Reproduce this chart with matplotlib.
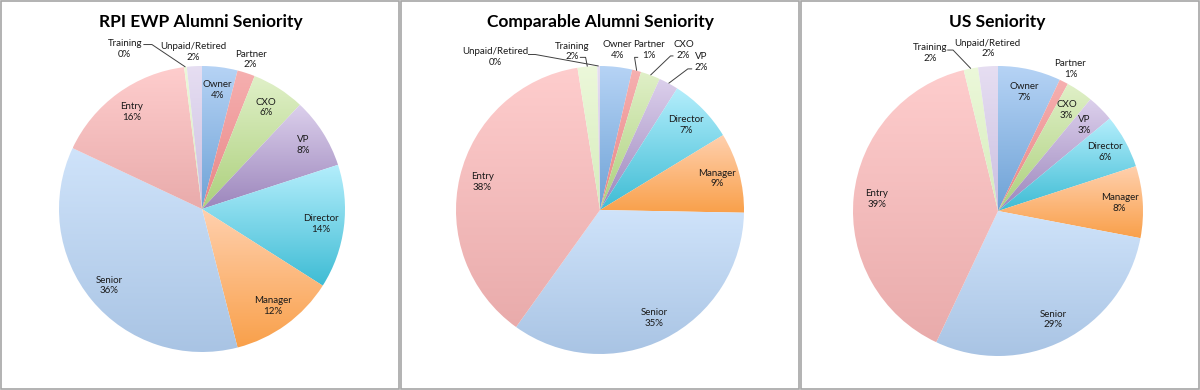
import numpy as np
import matplotlib
matplotlib.use("Agg")
import matplotlib.pyplot as plt
from matplotlib.patches import Rectangle
from matplotlib.colors import to_rgb

# ---------------- data ----------------
categories = ["Owner", "Partner", "CXO", "VP", "Director", "Manager",
              "Senior", "Entry", "Training", "Unpaid/Retired"]
titles = ["RPI EWP Alumni Seniority", "Comparable Alumni Seniority", "US Seniority"]
rpi_values = [4, 2, 6, 8, 14, 12, 36, 16, 0.3, 1.7]
comparable_values = [3.6, 1.0, 2.2, 2.2, 7.3, 9.0, 34.6, 37.6, 2.2, 0.3]
us_values = [7, 1, 3, 3, 6, 8, 29, 39.2, 1.6, 2.2]
all_values = [rpi_values, comparable_values, us_values]

# ---------------- styles ----------------
top_colors = ["#b6d3f5", "#f6b0b0", "#e0f0c8", "#dcd0ec", "#b4eefc",
              "#ffd0ae", "#cfe3fa", "#fecdcd", "#ecf8da", "#e6def2"]
bottom_colors = ["#6ea2d6", "#e88686", "#acd07c", "#9c86bc", "#3ebcd4",
                 "#f9a04a", "#a9c4e4", "#e9abab", "#d6ecbc", "#cbbfe0"]

plt.rcParams["font.family"] = ["Lato", "DejaVu Sans"]

W, H = 1200, 390
fig = plt.figure(figsize=(12, 3.9), dpi=100)
fig.patch.set_facecolor("white")

panels = [dict(x0=0, cx=202, cy=209, R=143, tx=201),
          dict(x0=400, cx=600, cy=210, R=144, tx=600),
          dict(x0=800, cx=998, cy=211, R=145, tx=997)]

# label layout (in pie-radius units); None leader -> no leader line
outside_default = 1.1
inside_dist = 0.84
layout = [
    {"Training": dict(pos=(-0.54, 1.12), leader=[(-0.41, 1.15), (-0.35, 1.15)]),
     "Unpaid/Retired": dict(pos=None, leader=None),
     "Partner": dict(pos=None, leader=None)},
    {"Unpaid/Retired": dict(pos=(-0.73, 1.06), leader=[(-0.50, 1.08), (-0.45, 1.08)]),
     "Training": dict(pos=(-0.19, 1.10), leader=[(-0.14, 1.06), (-0.10, 1.06)]),
     "Owner": dict(pos=(0.12, 1.11), leader=None),
     "Partner": dict(pos=(0.34, 1.11), leader=[(0.265, 1.06), (0.24, 1.06)]),
     "CXO": dict(pos=(0.58, 1.11), leader=[(0.51, 1.07), (0.49, 1.07)]),
     "VP": dict(pos=(0.70, 1.03), leader=[(0.64, 0.98), (0.61, 0.98)])},
    {"Training": dict(pos=(-0.47, 1.09), leader=[(-0.35, 1.11), (-0.31, 1.11)]),
     "Unpaid/Retired": dict(pos=(-0.07, 1.12), leader=None),
     "Partner": dict(pos=None, leader=None)},
]

for p, values, title, lay in zip(panels, all_values, titles, layout):
    x0, cx, cy, R = p["x0"], p["cx"], p["cy"], p["R"]
    ax = fig.add_axes([x0 / W, 0, 400 / W, 1])
    wedges, _ = ax.pie(values, startangle=90, counterclock=False, radius=1,
                       wedgeprops=dict(linewidth=0))
    total = float(sum(values))
    for i, (w, cat, v) in enumerate(zip(wedges, categories, values)):
        ext = w.get_path().get_extents()
        c1 = np.array(to_rgb(top_colors[i]))
        c2 = np.array(to_rgb(bottom_colors[i]))
        t = np.linspace(0, 1, 256)[:, None]
        grad = (c1[None, :] * (1 - t) + c2[None, :] * t)[:, None, :]
        im = ax.imshow(grad, extent=(ext.x0, ext.x1, ext.y0, ext.y1),
                       origin="upper", aspect="auto", interpolation="bilinear",
                       zorder=1)
        im.set_clip_path(w)
        w.set_facecolor("none")
        w.set_edgecolor("none")

        mid = np.deg2rad((w.theta1 + w.theta2) / 2.0)
        ux, uy = np.cos(mid), np.sin(mid)
        pct = int(np.floor(v / total * 100 + 0.5))
        txt = f"{cat}\n{pct}%"
        if cat in lay:
            spec = lay[cat]
            if spec["pos"] is None:
                lx, ly = outside_default * ux, outside_default * uy
            else:
                lx, ly = spec["pos"]
            if spec["leader"] is not None:
                pts = list(spec["leader"]) + [(ux, uy)]
                xs = [q[0] for q in pts]
                ys = [q[1] for q in pts]
                ax.plot(xs, ys, color="#404040", lw=0.7, zorder=3,
                        solid_capstyle="butt")
        else:
            lx, ly = inside_dist * ux, inside_dist * uy
        ax.text(lx, ly, txt, ha="center", va="center", fontsize=7,
                color="#1a1a1a", linespacing=1.25, zorder=4)

    ax.set_aspect("auto")
    ax.set_xlim((x0 - cx) / R, (x0 + 400 - cx) / R)
    ax.set_ylim((cy - H) / R, cy / R)
    ax.axis("off")

    fig.text(p["tx"] / W, 1 - 22 / H, title, ha="center", va="center",
             fontsize=12.5, fontweight="bold", color="#000000")

    fig.add_artist(Rectangle(((x0 + 0.8) / W, 0.8 / H), 398 / W, 388.4 / H,
                             transform=fig.transFigure, fill=False,
                             edgecolor="#a6a6a6", lw=1.2))

fig.savefig("out.png", dpi=100)
